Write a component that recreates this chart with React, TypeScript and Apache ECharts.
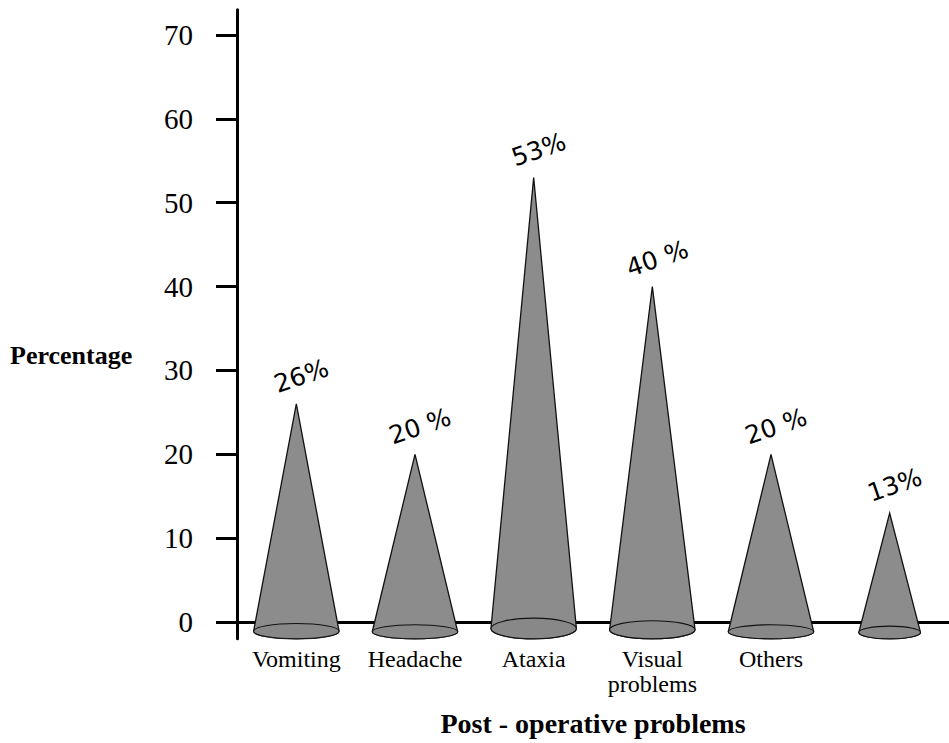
import React, { useEffect, useRef } from "react";
import * as echarts from "echarts";

const categories = ["Vomiting", "Headache", "Ataxia", "Visual\nproblems", "Others", ""];
const percentages = [26, 20, 53, 40, 20, 13];
const valueLabels = ["26%", "20 %", "53%", "40 %", "20 %", "13%"];
const yTicks = [0, 10, 20, 30, 40, 50, 60, 70];
const Y_MIN = -2;
const Y_MAX = 73;

const SERIF = '"Liberation Serif", "Times New Roman", serif';

export default function App() {
  const ref = useRef<HTMLDivElement>(null);
  useEffect(() => {
    document.body.style.margin = "0";
    const chart = echarts.init(ref.current!, null, { renderer: "svg" });
    const renderItem = (params: any, api: any) => {
      const i = api.value(0);
      const v = api.value(1);
      const apex = api.coord([i, v]);
      const base = api.coord([i, Y_MIN]);
      const band = api.size([1, 0])[0];
      const w = band * 0.72 * Math.min(1, v / 18);
      const rx = w / 2;
      const ry = 5 + v * 0.1;
      const cx = apex[0];
      const cy = base[1] - ry;
      const cone = `M${cx - rx},${cy} L${cx},${apex[1]} L${cx + rx},${cy} A${rx},${ry} 0 0 1 ${cx - rx},${cy} Z`;
      const ell = `M${cx - rx},${cy} A${rx},${ry} 0 1 0 ${cx + rx},${cy} A${rx},${ry} 0 1 0 ${cx - rx},${cy} Z`;
      return {
        type: "group",
        children: [
          { type: "path", shape: { pathData: cone }, style: { fill: "#8c8c8c", stroke: "#111", lineWidth: 1.3 } },
          { type: "path", shape: { pathData: ell }, style: { fill: "#888888", stroke: "#111", lineWidth: 1.1 } },
          {
            type: "text",
            x: cx + 5,
            y: apex[1] - 28,
            rotation: 0.33,
            style: {
              text: valueLabels[i],
              fill: "#000",
              fontSize: 25,
              fontFamily: '"DejaVu Sans", sans-serif',
              align: "center",
              verticalAlign: "middle",
            },
          },
        ],
      };
    };
    const option = {
      animation: false,
      backgroundColor: "#ffffff",
      grid: { left: 237, right: -32, top: 9.84, bottom: 104.23, containLabel: false },
      xAxis: {
        type: "category",
        data: categories,
        axisLine: { show: true, lineStyle: { color: "#000", width: 3 } },
        axisTick: { show: false },
        axisLabel: {
          interval: 0,
          color: "#000",
          fontFamily: SERIF,
          fontSize: 24,
          lineHeight: 25,
          margin: 8,
        },
        name: "Post - operative problems",
        nameLocation: "middle",
        nameGap: 71,
        nameTextStyle: { color: "#000", fontFamily: SERIF, fontWeight: "bold", fontSize: 28 },
      },
      yAxis: {
        type: "value",
        min: Y_MIN,
        max: Y_MAX,
        splitLine: { show: false },
        axisLine: { show: true, lineStyle: { color: "#000", width: 3 } },
        axisTick: { show: true, length: 21, lineStyle: { color: "#000", width: 3 }, customValues: yTicks },
        axisLabel: { customValues: yTicks, color: "#000", fontFamily: SERIF, fontSize: 29, margin: 44 },
      },
      graphic: [
        {
          type: "text",
          left: 10,
          top: 342,
          style: { text: "Percentage", fill: "#000", font: `bold 26px ${SERIF}` },
        },
      ],
      series: [
        {
          type: "custom",
          data: percentages.map((v, i) => [i, v]),
          renderItem,
          clip: false,
        },
      ],
    };
    chart.setOption(option as any);
    return () => chart.dispose();
  }, []);
  return <div ref={ref} style={{ width: 949, height: 743 }} />;
}
